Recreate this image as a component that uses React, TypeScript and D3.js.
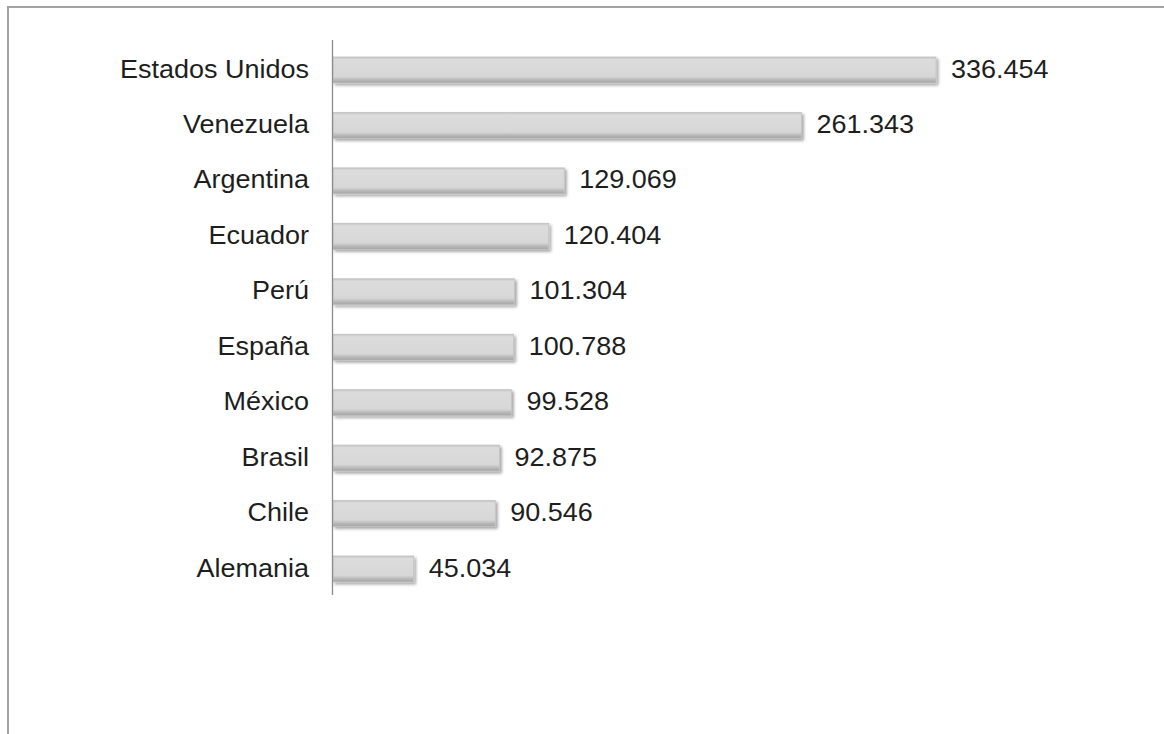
import React from "react";
import * as d3 from "d3";

const countries = [
  "Estados Unidos",
  "Venezuela",
  "Argentina",
  "Ecuador",
  "Perú",
  "España",
  "México",
  "Brasil",
  "Chile",
  "Alemania",
];
const values = [336.454, 261.343, 129.069, 120.404, 101.304, 100.788, 99.528, 92.875, 90.546, 45.034];
const valueLabels = ["336.454", "261.343", "129.069", "120.404", "101.304", "100.788", "99.528", "92.875", "90.546", "45.034"];

const W = 1164;
const H = 734;
const axisX = 333;

export default function App() {
  const x = d3.scaleLinear().domain([0, 336.454]).range([axisX, 936]);
  const y = d3.scalePoint<string>().domain(countries).range([70, 569]);
  const barH = 26;
  const font = "'Liberation Sans', Arial, sans-serif";
  const sx = 1.08;
  return (
    <svg
      width={W}
      height={H}
      style={{ position: "absolute", left: 0, top: 0, display: "block", background: "#fff" }}
    >
      <defs>
        <linearGradient id="barGrad" x1="0" y1="0" x2="0" y2="1">
          <stop offset="0" stopColor="#c4c4c4" />
          <stop offset="0.1" stopColor="#dcdcdc" />
          <stop offset="0.75" stopColor="#d7d7d7" />
          <stop offset="0.88" stopColor="#b8b8b8" />
          <stop offset="1" stopColor="#a4a4a4" />
        </linearGradient>
        <filter id="shadow" x="-5%" y="-30%" width="110%" height="160%">
          <feGaussianBlur in="SourceAlpha" stdDeviation="1.5" />
          <feOffset dx="1.5" dy="2" result="b" />
          <feComponentTransfer>
            <feFuncA type="linear" slope="0.35" />
          </feComponentTransfer>
          <feMerge>
            <feMergeNode />
            <feMergeNode in="SourceGraphic" />
          </feMerge>
        </filter>
      </defs>
      {/* frame */}
      <line x1={8} y1={7} x2={W} y2={7} stroke="#a3a3a3" strokeWidth={2} />
      <line x1={8} y1={6} x2={8} y2={H} stroke="#a3a3a3" strokeWidth={2} />

      {countries.map((c, i) => {
        const cy = y(c) as number;
        const x1 = x(values[i]);
        return (
          <g key={c}>
            <rect
              x={axisX}
              y={cy - barH / 2}
              width={x1 - axisX}
              height={barH}
              fill="url(#barGrad)"
              stroke="#c2c2c2"
              strokeWidth={0.8}
              filter="url(#shadow)"
            />
            <text
              transform={`translate(309,${cy + 7.5}) scale(${sx},1)`}
              textAnchor="end"
              fontFamily={font}
              fontSize={25}
              fill="#1e1e1e"
            >
              {c}
            </text>
            <text
              transform={`translate(${x1 + 15},${cy + 7.5}) scale(${sx},1)`}
              textAnchor="start"
              fontFamily={font}
              fontSize={25}
              fill="#1e1e1e"
            >
              {valueLabels[i]}
            </text>
          </g>
        );
      })}
      <line x1={axisX - 0.5} y1={40} x2={axisX - 0.5} y2={595} stroke="#8c8c8c" strokeWidth={1.3} />
    </svg>
  );
}
